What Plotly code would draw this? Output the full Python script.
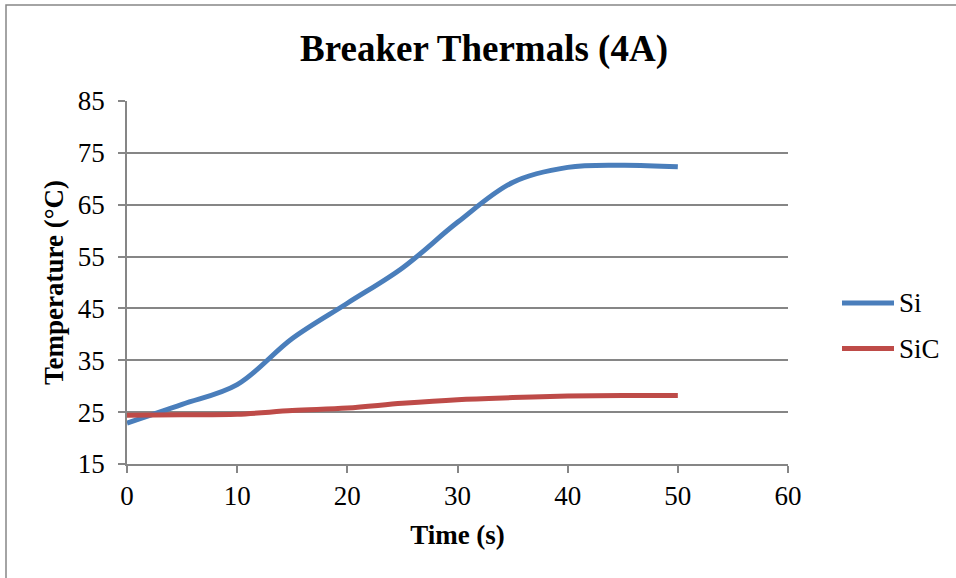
import plotly.graph_objects as go

# Measured temperatures, sampled every 5 s
time_s = [0, 5, 10, 15, 20, 25, 30, 35, 40, 45, 50]
si_temp = [22.9, 26.5, 30.3, 39.2, 46.0, 52.8, 61.6, 69.3, 72.2, 72.6, 72.3]
sic_temp = [24.4, 24.5, 24.6, 25.3, 25.8, 26.7, 27.4, 27.8, 28.1, 28.2, 28.2]

series_names = ["Si", "SiC"]
series_colors = ["#4A7EBB", "#BE4B48"]

x_ticks = [0, 10, 20, 30, 40, 50, 60]
y_ticks = [15, 25, 35, 45, 55, 65, 75, 85]

SERIF = "Liberation Serif, Times New Roman, serif"
GRAY = "#868686"
FS = 27

W, H = 956, 578
ML, MR, MT, MB = 127, 168, 101, 114
pw, ph = W - ML - MR, H - MT - MB


def px_to_paper_x(px):
    return (px - ML) / pw


def px_to_paper_y(py):
    return (H - MB - py) / ph


fig = go.Figure()
for name, color, temps in zip(series_names, series_colors, [si_temp, sic_temp]):
    fig.add_trace(go.Scatter(
        x=time_s, y=temps, name=name, mode="lines",
        line=dict(color=color, width=5, shape="spline", smoothing=1),
        showlegend=False,
    ))

# Legend drawn as a key to the right of the plot area: long line sample + label
legend_shapes = []
legend_notes = []
for i, (name, color) in enumerate(zip(series_names, series_colors)):
    ly = px_to_paper_y(303 + 45.5 * i)
    legend_shapes.append(dict(
        type="line", xref="paper", yref="paper",
        x0=px_to_paper_x(842), x1=px_to_paper_x(894), y0=ly, y1=ly,
        line=dict(color=color, width=5),
    ))
    legend_notes.append(dict(
        text=name, xref="paper", yref="paper",
        x=px_to_paper_x(897), y=ly, xanchor="left", yanchor="middle",
        showarrow=False, font=dict(family=SERIF, size=FS, color="black"),
    ))

frame = dict(
    type="rect", xref="paper", yref="paper",
    x0=px_to_paper_x(6), x1=px_to_paper_x(970),
    y0=px_to_paper_y(600), y1=px_to_paper_y(5),
    line=dict(color=GRAY, width=1.5), fillcolor="rgba(0,0,0,0)",
    layer="below",
)

fig.update_layout(
    width=W, height=H,
    margin=dict(l=ML, r=MR, t=MT, b=MB),
    paper_bgcolor="white", plot_bgcolor="white",
    font=dict(family=SERIF, size=FS, color="black"),
    showlegend=False,
    title=dict(
        text="<b>Breaker Thermals (4A)</b>",
        font=dict(family=SERIF, size=37, color="black"),
        x=484 / W, xanchor="center", xref="container",
        y=1 - 48 / H, yanchor="middle", yref="container",
    ),
    xaxis=dict(
        range=[0, 60], tickvals=x_ticks, ticktext=[str(v) for v in x_ticks],
        showgrid=False, zeroline=False,
        showline=True, linecolor=GRAY, linewidth=1.5,
        ticks="outside", ticklen=7, tickcolor=GRAY, tickwidth=1.5,
        tickfont=dict(family=SERIF, size=FS),
        title=dict(text="<b>Time (s)</b>", font=dict(family=SERIF, size=FS), standoff=15),
    ),
    yaxis=dict(
        range=[15, 85], tickvals=y_ticks, ticktext=[str(v) for v in y_ticks],
        showgrid=True, gridcolor=GRAY, gridwidth=1.5, zeroline=False,
        showline=True, linecolor=GRAY, linewidth=1.5,
        ticks="outside", ticklen=7, tickcolor=GRAY, tickwidth=1.5,
        ticklabelstandoff=8,
        tickfont=dict(family=SERIF, size=FS),
        title=dict(text="<b>Temperature (°C)</b>", font=dict(family=SERIF, size=FS), standoff=6),
    ),
    shapes=[frame] + legend_shapes,
    annotations=legend_notes,
)

fig.write_html("out.html")
